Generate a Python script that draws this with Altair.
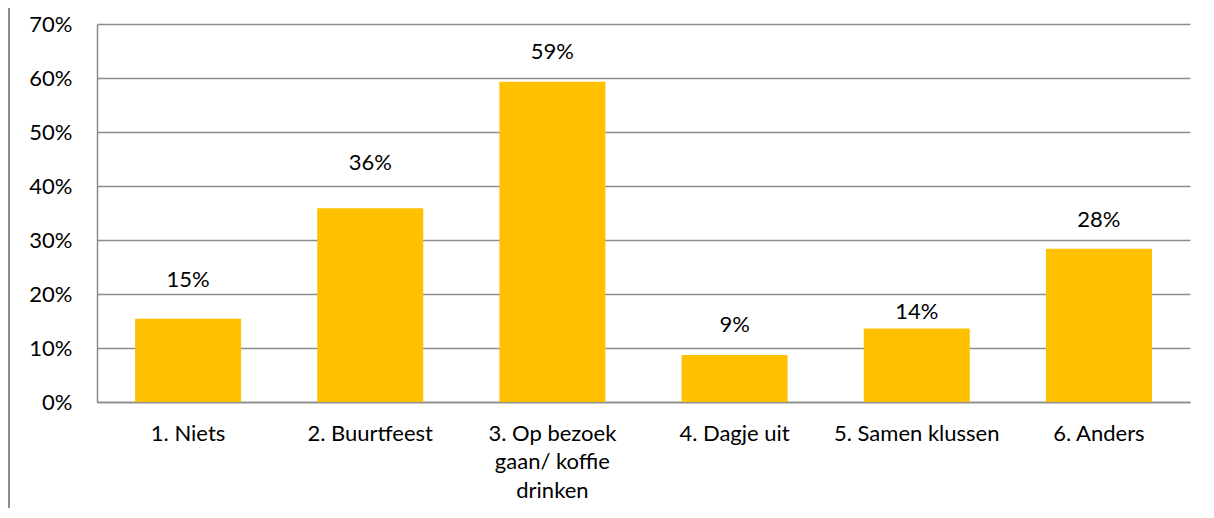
import altair as alt
import pandas as pd

categories = ["1. Niets", "2. Buurtfeest", "3. Op bezoek gaan/ koffie drinken",
              "4. Dagje uit", "5. Samen klussen", "6. Anders"]
values = [0.154, 0.359, 0.593, 0.087, 0.136, 0.284]
# heights (in axis units) at which the data labels sit in the original
label_level = [0.226, 0.443, 0.649, 0.143, 0.167, 0.337]

df = pd.DataFrame({"cat": categories, "val": values, "lab": label_level})

FONT = "Lato"
W, H = 1093, 378

x = alt.X("cat:N", sort=None, title=None,
          scale=alt.Scale(paddingInner=0.418, paddingOuter=0.209),
          axis=alt.Axis(labelAngle=0, labelFont=FONT, labelFontSize=22, labelColor="#000000",
                        labelPadding=21, labelLineHeight=28.5, ticks=False, domain=True,
                        domainColor="#8c8c8c", domainWidth=1.5, labelLimit=300,
                        labelExpr="datum.label == '3. Op bezoek gaan/ koffie drinken' ? ['3. Op bezoek', 'gaan/ koffie', 'drinken'] : datum.label"))

y_scale = alt.Scale(domain=[0, 0.7], nice=False)

bars = alt.Chart(df).mark_bar(color="#FFC000").encode(
    x=x,
    y=alt.Y("val:Q", scale=y_scale, title=None,
            axis=alt.Axis(format=".0%", values=[0, 0.1, 0.2, 0.3, 0.4, 0.5, 0.6, 0.7],
                          labelFont=FONT, labelFontSize=22, labelColor="#000000",
                          labelPadding=25, ticks=False, domain=True, domainColor="#8c8c8c",
                          domainWidth=1.5, grid=True, gridColor="#8c8c8c", gridWidth=1.5)),
)

texts = alt.Chart(df).mark_text(font=FONT, fontSize=22, color="#000000", baseline="middle").encode(
    x=alt.X("cat:N", sort=None),
    y=alt.Y("lab:Q", scale=y_scale),
    text=alt.Text("val:Q", format=".0%"),
)

border = alt.Chart(df).mark_rule(color="#8c8c8c", strokeWidth=1.5, clip=False).encode(
    x=alt.value(-88), y=alt.value(-20), y2=alt.value(H + 140)
)

chart = alt.layer(border, bars, texts).properties(
    width=W, height=H,
    padding={"left": 89, "top": 16, "right": 16, "bottom": 106},
    autosize=alt.AutoSizeParams(type="none"),
).configure_view(stroke=None).configure_axisX(grid=False)

chart.save("out.html", embed_options={"renderer": "svg", "actions": False})
